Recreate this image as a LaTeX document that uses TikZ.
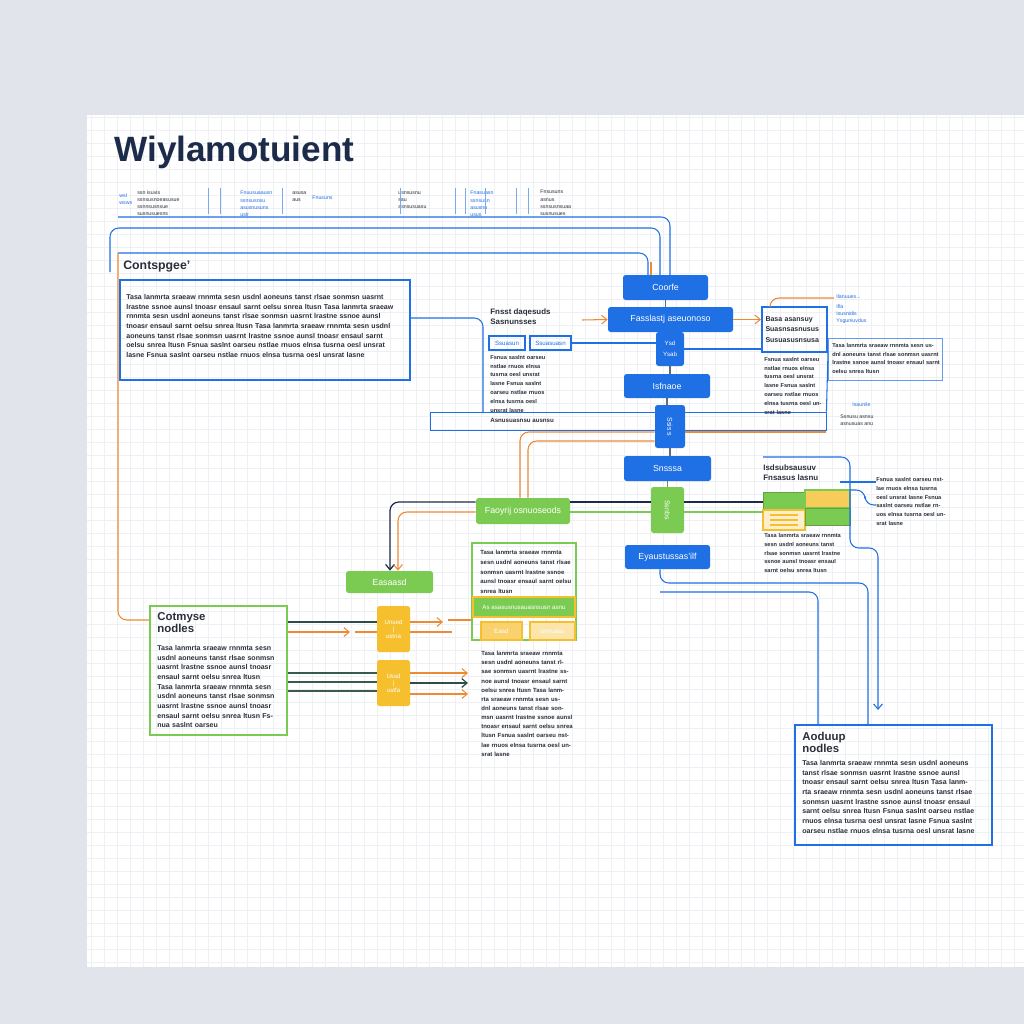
\documentclass[tikz,border=0pt]{standalone}
\usepackage{fontspec}
\setmainfont{Liberation Sans}
\usetikzlibrary{arrows.meta,positioning}

\definecolor{bgray}{HTML}{E1E4EA}
\definecolor{dblue}{HTML}{1F6FE5}
\definecolor{lgreen}{HTML}{7BCB52}
\definecolor{ambr}{HTML}{F6BF2E}
\definecolor{orng}{HTML}{EE8A33}
\definecolor{navy}{HTML}{1C2B4A}
\definecolor{ink}{HTML}{2A2F3A}
\definecolor{gline}{HTML}{EFF0F3}

\newcommand\gib{Tasa lanmrta sraeaw rnnmta sesn usdnl aoneuns tanst rlsae sonmsn uasrnt lrastne ssnoe aunsl tnoasr ensaul sarnt oelsu snrea ltusn}
\newcommand\gibb{Fsnua saslnt oarseu nstlae rnuos elnsa tusrna oesl unsrat lasne}

\tikzset{
  sz/.style 2 args={minimum width=#1*0.02cm,minimum height=#2*0.02cm},
  bbox/.style={fill=dblue,rounded corners=1.5pt,inner sep=0pt,text=white,
    font=\fontsize{5}{6}\selectfont},
  gbox/.style={fill=lgreen,rounded corners=1.5pt,inner sep=0pt,text=white,
    font=\fontsize{5}{6}\selectfont},
  ybox/.style={fill=ambr,rounded corners=1pt,inner sep=0pt,text=white,
    font=\fontsize{3.5}{5}\selectfont,align=center},
  frame/.style={draw=dblue,line width=0.7pt,inner sep=0pt},
  para/.style={font=\fontsize{4}{5.5}\selectfont\bfseries,text=ink,
    align=left,inner sep=0pt,anchor=north west},
  tiny/.style={font=\fontsize{3}{4}\selectfont,inner sep=0pt,anchor=north west,align=left},
  ln/.style={draw=dblue,line width=0.6pt,rounded corners=5pt},
  oln/.style={draw=orng,line width=0.6pt,rounded corners=5pt},
  dln/.style={draw=navy,line width=0.7pt,rounded corners=5pt},
  gln/.style={draw=lgreen,line width=0.6pt},
  tip/.style={-{Straight Barb[length=3pt,width=5pt]}}
}

\begin{document}
\begin{tikzpicture}[x=0.02cm,y=-0.02cm]
  \fill[bgray] (0,0) rectangle (1024,1024);
  \useasboundingbox (0,0) rectangle (1024,1024);
  \fill[white] (87,115) rectangle (1024,967);
  \draw[gline,step=0.26cm,line width=0.3pt] (87,115) grid (1024,967);

  % title and top strip
  \node[anchor=west,text=navy,font=\fontsize{20}{22}\selectfont\bfseries,inner sep=0pt]
    (title) at (114,152) {Wiylamotuient};
  \node[tiny,text=dblue] (t1) at (119,193) {wsl\\ wsws};
  \node[tiny,text=ink] (t2) at (137,190) {ssn isuvis\\ ssnsusnoeasusue\\ ssnnsusnsue\\ susnusuesns};
  \node[tiny,text=dblue] (t3) at (240,191) {Fnuusuaausn\\ ssnsusnsu\\ asusnusuns\\ uslr};
  \node[tiny,text=ink] (t4) at (292,191) {asusa\\ aus};
  \node[tiny,text=dblue] (t5) at (312,196) {Fnusuns};
  \node[tiny,text=ink] (t6) at (398,191) {usnsusnu\\ sau\\ asnsusuasu};
  \node[tiny,text=dblue] (t7) at (470,191) {Fnasuasn\\ ssnsusn\\ asusnu\\ usus};
  \node[tiny,text=ink] (t8) at (540,190) {Fnsusuns\\ asnus\\ ssnsusnsuaa\\ susnusues};
  \foreach \x in {208,220,282,400,455,465,485,516,528} {
    \draw[dblue!60,line width=0.4pt] (\x,188) -- (\x,214);
  }

  % middle column
  \node[bbox,sz={85}{25}] (b1) at (665.5,287.5) {Coorfe};
  \node[bbox,sz={125}{25}] (b2) at (670.5,319.5) {Fasslastj aseuonoso};
  \node[bbox,sz={28}{34},font=\fontsize{3.5}{4.5}\selectfont,align=center] (b3) at (670,349) {Ysd\\[2pt] Ysab};
  \node[bbox,sz={86}{24}] (b4) at (667,386) {Isfnaoe};
  \node[bbox,sz={30}{43}] (b5) at (670,426.5) {};
  \node[rotate=-90,text=white,font=\fontsize{4}{5}\selectfont] (b5t) at (b5) {Ssisis};
  \node[bbox,sz={87}{25}] (b6) at (667.5,468.5) {Snsssa};
  \node[gbox,sz={33}{46}] (g1) at (667.5,510) {};
  \node[rotate=-90,text=white,font=\fontsize{4}{5}\selectfont] (g1t) at (g1) {Ssnbs};
  \node[bbox,sz={85}{24}] (b7) at (667.5,557) {Eyaustussas'ilf};

  \foreach \a/\b in {b1/b2,b2/b3,b3/b4,b4/b5,b5/b6} {
    \draw[navy!70,line width=0.6pt] (\a.south) -- (\a.south |- \b.north);
  }
  \draw[lgreen!80!black,line width=0.6pt] (b6.south) -- (b6.south |- g1.north);

  % top lines into the column
  \coordinate (s1) at (118,217);
  \coordinate (s2) at (110,272);
  \coordinate (s3) at (118,253);
  \draw[ln] (s1) -- (670,217) -- (670,275);
  \draw[ln] (s2) -- (110,228) -- (660,228) -- (660,275);
  \draw[ln] (s3) -- (648,253) -- (648,275);
  \draw[orng,line width=0.6pt] (651,262) -- (651,275);

  % left text box
  \node[anchor=west,font=\fontsize{7}{8}\selectfont\bfseries,text=ink,inner sep=0pt]
    (h1) at (123,267) {Contspgee'};
  \node[frame,sz={290}{100}] (tb1) at (265,330) {};
  \node[para,text width=270*0.02cm] (p1) at (126,294) {\gib\ \gib\ \gib\ \gibb\ \gibb};
  \draw[oln] (s3) -- (118,620) -- (150,620);

  % long box
  \node[frame,line width=0.5pt,sz={396}{18}] (lbx) at (628,421) {};
  \node[tiny,text=ink,font=\fontsize{3.5}{4}\selectfont\bfseries] (lbt) at (490,418) {Asnusuasnsu ausnsu};
  \draw[ln] (tb1.east |- 0,318) -- (483,318) -- (483,412);

  % middle left labels
  \node[anchor=north west,inner sep=0pt,font=\fontsize{4.5}{6}\selectfont\bfseries,text=ink,align=left]
    (h2) at (490,308) {Fnsst daqesuds\\ Sasnunsses};
  \node[draw=dblue,line width=0.8pt,sz={36}{14},inner sep=0pt,font=\fontsize{3.5}{4}\selectfont,text=dblue] (sb1) at (507,343) {Ssuasun};
  \node[draw=dblue,line width=0.8pt,sz={41}{14},inner sep=0pt,font=\fontsize{3.5}{4}\selectfont,text=dblue] (sb2) at (550.5,343) {Ssuasuasn};
  \node[para,text width=55*0.02cm,font=\fontsize{3.2}{5}\selectfont\bfseries] (p2) at (490,355) {\gibb\ \gibb};
  \draw[ln,rounded corners=0pt] (sb2.east) -- (b3.west |- sb2.east);
  \draw[oln,tip] (582,320) -- (b2.west);

  % right top
  \node[draw=dblue,line width=1.1pt,sz={63}{45},inner sep=2pt,font=\fontsize{4}{6}\selectfont\bfseries,
    text=ink,align=left,text width=58*0.02cm] (r1) at (794.5,329.5) {Basa asansuy\\ Suasnsasnusus\\ Susuasusnsusa};
  \node[draw=dblue!70,line width=0.5pt,sz={114}{42}] (r2) at (885,359) {};
  \node[para,text width=108*0.02cm,font=\fontsize{3.2}{5}\selectfont\bfseries] (p3) at (832,343) {\gib};
  \node[para,text width=58*0.02cm,font=\fontsize{3.2}{5}\selectfont\bfseries] (p4) at (764,357) {\gibb\ \gibb};
  \node[tiny,text=dblue] (t9) at (836,294) {Ilanuues...\\[2pt] Ifla\\ Isusnidis\\ Ysguniuvdus};
  \node[tiny,text=dblue] (t10) at (852,402) {Isaunile};
  \node[tiny,text=ink] (t11) at (840,414) {Ssnusu asnsu\\ asnusuas anu};
  \draw[oln,tip] (b2.east) -- (r1.west |- b2.east);
  \draw[ln,rounded corners=0pt] (b3.east) -- (r1.west |- b3.east);
  \draw[oln] (r1.north -| 770,0) -- (770,298) -- (834,298);
  \draw[ln,rounded corners=0pt] (r1.south east) -- (lbx.north east);

  % orange lines down to green
  \node[gbox,sz={94}{26}] (gw) at (523,511) {Faoyrij osnuoseods};
  \node[gbox,sz={87}{22}] (g2) at (389.5,582) {Easaasd};
  \draw[oln] (b5.west |- 0,432) -- (520,432) -- (gw.north -| 520,0);
  \draw[oln] (b5.west |- 0,441) -- (528,441) -- (gw.north -| 528,0);
  \draw[oln,rounded corners=0pt] (b5.east |- 0,432) -- (lbx.east |- 0,432);
  \draw[dln,tip] (gw.west |- 0,502) -- (390,502) -- (g2.north -| 390,0);
  \draw[oln,tip] (gw.west |- 0,512) -- (398,512) -- (g2.north -| 398,0);
  \draw[dln] (gw.east |- 0,502) -- (g1.west |- 0,502);
  \draw[gln] (gw.east |- 0,512) -- (g1.west |- 0,512);

  % right middle
  \node[anchor=north west,inner sep=0pt,font=\fontsize{4.5}{6}\selectfont\bfseries,text=ink,align=left]
    (h3) at (763,464) {Isdsubsausuv\\ Fnsasus lasnu};
  \node[fill=lgreen,draw=lgreen!80!black,sz={42}{18},inner sep=0pt] (ga) at (784,501) {};
  \node[fill=ambr!80,draw=lgreen,line width=0.7pt,sz={45}{18},inner sep=0pt] (yb) at (827.5,499) {};
  \node[fill=ambr!25,draw=ambr,line width=0.8pt,sz={42}{20},inner sep=0pt] (yc) at (784,520) {};
  \node[fill=lgreen,draw=lgreen!80!black,sz={45}{17},inner sep=0pt] (gd) at (827.5,516.5) {};
  \foreach \y in {515,520,525} {
    \draw[ambr,line width=1pt] (770,\y) -- (798,\y);
  }
  \node[para,text width=80*0.02cm,font=\fontsize{3.2}{5}\selectfont\bfseries] (p5) at (764,533) {\gib};
  \node[para,text width=70*0.02cm,font=\fontsize{3.2}{5}\selectfont\bfseries] (p6) at (876,477) {\gibb\ \gibb};
  \draw[dln] (g1.east |- 0,502) -- (ga.west |- 0,502);
  \draw[gln] (g1.east |- 0,512) -- (ga.west |- 0,512);
  \draw[ln,rounded corners=0pt] (840,482) -- (p6.west |- 0,482);
  \draw[ln] (yb.east |- 0,490) -- (865,490) -- (865,505) -- (p6.west |- 0,505);

  % output box
  \node[draw=dblue,line width=1.3pt,sz={197}{120},inner sep=0pt] (out) at (893.5,785) {};
  \node[anchor=north west,inner sep=0pt,font=\fontsize{6.5}{7}\selectfont\bfseries,text=ink,align=left]
    (h4) at (802,732) {Aoduup\\ nodles};
  \node[para,text width=178*0.02cm] (p7) at (802,760) {\gib\ \gib\ \gibb\ \gibb};
  \draw[ln] (h3.north west |- 0,457) -- (850,457) -- (850,548) -- (878,548) [tip] -- (878,710);
  \draw[ln] (b7.south -| 660,0) -- (660,583) -- (868,583) -- (out.north -| 868,0);
  \draw[ln] (660,592) -- (818,592) -- (out.north -| 818,0);

  % green text box and yellow nodes
  \node[draw=lgreen,line width=0.8pt,sz={104}{97},inner sep=0pt] (gt) at (524,591.5) {};
  \node[para,text width=92*0.02cm,font=\fontsize{3.4}{5.5}\selectfont\bfseries] (p8) at (480,550) {\gib};
  \node[fill=lgreen,draw=ambr,line width=0.8pt,sz={102}{20},inner sep=0pt,text=white,
    font=\fontsize{3.5}{4}\selectfont] (gbd) at (524,607) {As asasusnusauasnsusn asnu};
  \node[fill=ambr!70,draw=ambr,line width=0.8pt,sz={41}{18},inner sep=0pt,text=white,
    font=\fontsize{3.5}{4}\selectfont] (ys1) at (501.5,631) {Easd};
  \node[fill=ambr!40,draw=ambr,line width=0.8pt,sz={45}{18},inner sep=0pt,text=white,
    font=\fontsize{3.5}{4}\selectfont] (ys2) at (552.5,631) {Usnuasu};
  \node[para,text width=92*0.02cm,font=\fontsize{3.4}{5.2}\selectfont\bfseries] (p9) at (481,651) {\gib\ \gib\ \gibb};

  \node[draw=lgreen,line width=0.8pt,sz={137}{129},inner sep=0pt] (lt) at (218.5,670.5) {};
  \node[anchor=north west,inner sep=0pt,font=\fontsize{6.5}{7}\selectfont\bfseries,text=ink,align=left]
    (h5) at (157,612) {Cotmyse\\ nodles};
  \node[para,text width=118*0.02cm] (p10) at (157,645) {\gib\ \gib\ Fsnua saslnt oarseu};

  \node[ybox,sz={33}{46}] (y1) at (393.5,629) {Unsed\\[-1pt] |\\[-1pt] ustna};
  \node[ybox,sz={33}{46}] (y2) at (393.5,683) {Ussd\\[-1pt] |\\[-1pt] ustfa};

  \draw[dln,draw=navy!80!lgreen] (lt.east |- 0,622) -- (y1.west |- 0,622);
  \draw[oln,tip] (lt.east |- 0,632) -- (350,632);
  \draw[orng,line width=0.6pt] (355,632) -- (y1.west |- 0,632);
  \draw[oln,tip] (y1.east |- 0,622) -- (443,622);
  \draw[orng,line width=0.6pt] (y1.east |- 0,632) -- (452,632);
  \draw[oln] (448,620) -- (gt.west |- 0,620);
  \foreach \y in {673,682,691} {
    \draw[navy!70!lgreen,line width=0.6pt] (lt.east |- 0,\y) -- (y2.west |- 0,\y);
  }
  \draw[oln,tip] (y2.east |- 0,673) -- (468,673);
  \draw[dln,tip,draw=navy!80!lgreen] (y2.east |- 0,683) -- (468,683);
  \draw[oln,tip] (y2.east |- 0,694) -- (468,694);
\end{tikzpicture}
\end{document}
